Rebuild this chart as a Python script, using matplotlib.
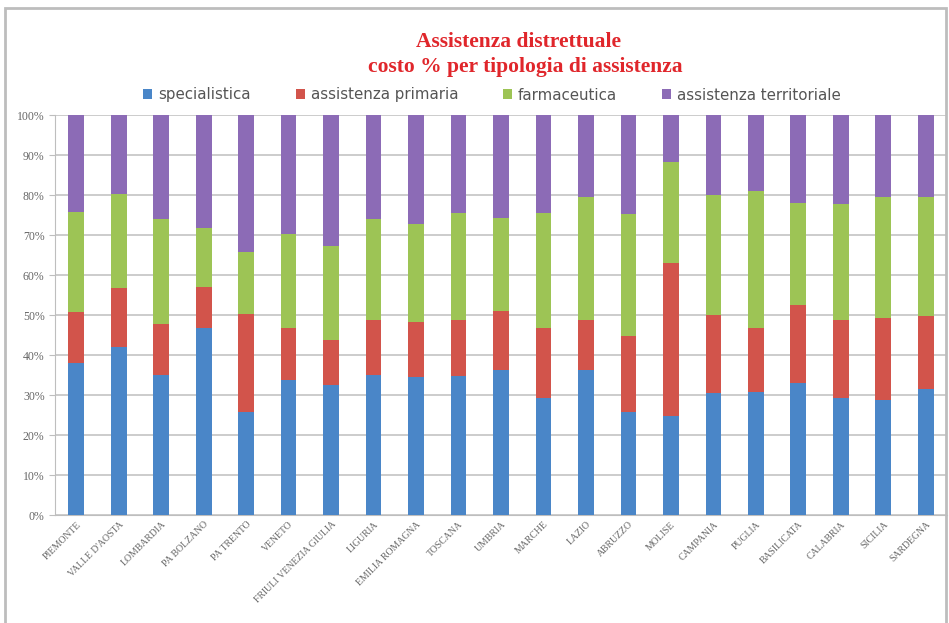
import matplotlib
matplotlib.use('Agg')
import matplotlib.pyplot as plt
import numpy as np
from matplotlib.patches import Rectangle
import matplotlib.ticker as mtick

regioni = ['PIEMONTE', "VALLE D'AOSTA", 'LOMBARDIA', 'PA BOLZANO', 'PA TRENTO',
           'VENETO', 'FRIULI VENEZIA GIULIA', 'LIGURIA', 'EMILIA ROMAGNA',
           'TOSCANA', 'UMBRIA', 'MARCHE', 'LAZIO', 'ABRUZZO', 'MOLISE',
           'CAMPANIA', 'PUGLIA', 'BASILICATA', 'CALABRIA', 'SICILIA', 'SARDEGNA']

# quote %
specialistica = [37.9, 42.1, 35.0, 46.8, 25.8, 33.8, 32.5, 35.0, 34.4, 34.8, 36.3,
                 29.3, 36.3, 25.8, 24.8, 30.6, 30.8, 32.9, 29.2, 28.8, 31.4]
primaria = [12.9, 14.6, 12.8, 10.1, 24.4, 13.0, 11.3, 13.8, 13.9, 14.0, 14.7,
            17.5, 12.5, 19.0, 38.1, 19.4, 16.0, 19.6, 19.6, 20.4, 18.4]
farmaceutica = [25.0, 23.6, 26.1, 14.9, 15.6, 23.4, 23.4, 25.1, 24.4, 26.7, 23.2,
                28.6, 30.8, 30.5, 25.4, 30.0, 34.3, 25.4, 29.0, 30.4, 29.8]
territoriale = [24.2, 19.7, 26.1, 28.2, 34.2, 29.8, 32.8, 26.1, 27.3, 24.5, 25.8,
                24.6, 20.4, 24.7, 11.7, 20.0, 18.9, 22.1, 22.2, 20.4, 20.4]

serie = ['specialistica', 'assistenza primaria', 'farmaceutica', 'assistenza territoriale']
colori = ['#4A86C8', '#D2544B', '#9DC455', '#8C6BB6']

fig = plt.figure(figsize=(9.49, 6.23), dpi=100)
ax = fig.add_axes([55/949, 1-515/623, 892/949, 400/623])

x = np.arange(len(regioni))
bottom = np.zeros(len(regioni))
handles = []
for nome, vals, col in zip(serie, [specialistica, primaria, farmaceutica, territoriale], colori):
    b = ax.bar(x, vals, width=0.37, bottom=bottom, color=col, label=nome, zorder=3)
    bottom += np.array(vals)
    handles.append(b)

ax.set_ylim(0, 100)
ax.set_xlim(-0.5, len(regioni)-0.5)
ax.set_yticks(np.arange(0, 101, 10))
ax.yaxis.set_major_formatter(mtick.PercentFormatter(decimals=0))
ax.grid(axis='y', color='#BEBEBE', lw=1.1, zorder=0)
for s in ['top', 'right']:
    ax.spines[s].set_visible(False)
ax.spines['left'].set_color('#BEBEBE')
ax.spines['bottom'].set_color('#BEBEBE')
ax.tick_params(axis='y', length=4, color='#BEBEBE', labelsize=8.5, labelcolor='#666666')
ax.tick_params(axis='x', length=0, labelsize=7, labelcolor='#666666')
ax.set_xticks(x)
ax.set_xticklabels(regioni, rotation=45, ha='right', rotation_mode='anchor',
                   family='Liberation Serif')
for t in ax.get_yticklabels():
    t.set_family('Liberation Serif')

fig.text(518/949, 1-42/623, 'Assistenza distrettuale', ha='center', va='center',
         color='#E0262B', fontsize=15.5, fontweight='bold', family='Liberation Serif')
fig.text(525/949, 1-67/623, 'costo % per tipologia di assistenza', ha='center', va='center',
         color='#E0262B', fontsize=15.5, fontweight='bold', family='Liberation Serif')

fig.legend(handles=handles, labels=serie, loc='center', ncol=4,
           bbox_to_anchor=(492/949, 1-95/623), frameon=False, fontsize=10.8,
           handlelength=0.6, handleheight=0.6, handletextpad=0.4, columnspacing=3.0,
           labelcolor='#555555')

fig.patches.append(Rectangle((5/949, -0.05), 941/949, 1.05-8/623, transform=fig.transFigure,
                             fill=False, edgecolor='#BDBDBD', lw=2))

fig.savefig('out.png', dpi=100)
